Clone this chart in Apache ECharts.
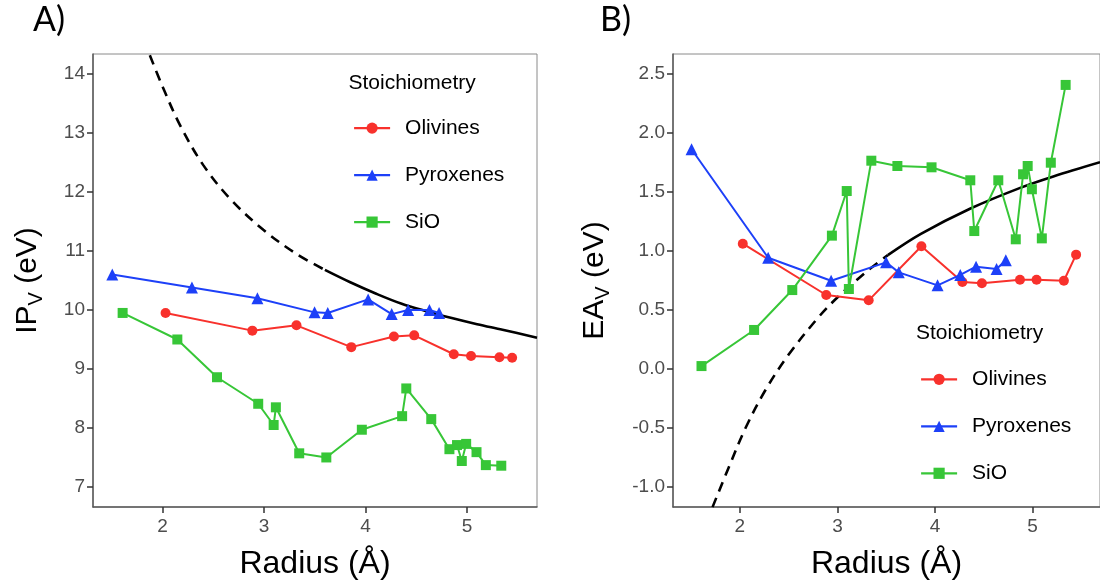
<!DOCTYPE html>
<html><head><meta charset="utf-8">
<script src="https://cdn.jsdelivr.net/npm/echarts@6.0.0/dist/echarts.min.js"></script>
<style>html,body{margin:0;padding:0;background:#fff}#c{width:1100px;height:585px}</style>
</head><body><div id="c"></div>
<script>
// ---- data ----
const seriesNames = ['Olivines', 'Pyroxenes', 'SiO'];

const olivR  = [2.03, 2.885, 3.32, 3.86, 4.28, 4.48, 4.87, 5.04, 5.32, 5.445];
const olivIP = [9.95, 9.65, 9.74, 9.37, 9.55, 9.57, 9.25, 9.22, 9.20, 9.19];
const olivEA = [1.062, 0.627, 0.582, 1.040, 0.737, 0.726, 0.757, 0.757, 0.748, 0.969];

const pyrR  = [1.505, 2.29, 2.935, 3.498, 3.628, 4.026, 4.258, 4.42, 4.63, 4.725];
const pyrIP = [10.60, 10.38, 10.20, 9.96, 9.95, 10.18, 9.93, 10.00, 10.00, 9.95];
const pyrEA = [1.862, 0.943, 0.748, 0.904, 0.819, 0.709, 0.797, 0.867, 0.847, 0.921];

const sioR  = [1.607, 2.146, 2.537, 2.943, 3.095, 3.117, 3.347, 3.614, 3.964, 4.361, 4.402, 4.648, 4.827, 4.902, 4.949, 4.992, 5.094, 5.186, 5.338];
const sioIP = [9.95, 9.50, 8.86, 8.41, 8.05, 8.35, 7.57, 7.50, 7.97, 8.20, 8.67, 8.15, 7.64, 7.71, 7.44, 7.73, 7.59, 7.37, 7.36];
const sioEA = [0.025, 0.331, 0.669, 1.130, 1.508, 0.678, 1.765, 1.720, 1.709, 1.599, 1.169, 1.599, 1.099, 1.650, 1.720, 1.523, 1.107, 1.748, 2.407];

// black model curve
const ipCurveDashR = [1.875, 2.0, 2.171, 2.40, 2.664, 2.993, 3.32, 3.60];
const ipCurveDashV = [14.32, 13.79, 13.14, 12.46, 11.89, 11.36, 10.95, 10.68];
const ipCurveSolidR = [3.60, 3.85, 4.10, 4.35, 4.60, 4.85, 5.10, 5.35, 5.69];
const ipCurveSolidV = [10.68, 10.47, 10.28, 10.11, 9.98, 9.865, 9.76, 9.665, 9.53];

const eaCurveDashR = [1.72, 1.888, 2.058, 2.261, 2.498, 2.804, 3.007, 3.312, 3.516];
const eaCurveDashV = [-1.17, -0.83, -0.50, -0.18, 0.12, 0.437, 0.612, 0.835, 0.965];
const eaCurveSolidR = [3.516, 3.855, 4.363, 4.872, 5.212, 5.69];
const eaCurveSolidV = [0.965, 1.145, 1.36, 1.535, 1.632, 1.752];

// ticks
const xTicks = [2, 3, 4, 5];
const ipTicks = [7, 8, 9, 10, 11, 12, 13, 14];
const eaTicks = [-1.0, -0.5, 0.0, 0.5, 1.0, 1.5, 2.0, 2.5];

// ---- chart ----
const FONT = '"Liberation Sans", Arial, Helvetica, sans-serif';
const colors = {Olivines: '#F8312C', Pyroxenes: '#1D40F8', SiO: '#37C637'};
const symbols = {Olivines: 'circle', Pyroxenes: 'triangle', SiO: 'rect'};
const sizes = {Olivines: 10, Pyroxenes: 12, SiO: 10};

const zip = (a, b) => a.map((v, i) => [v, b[i]]);

function dataSeries(name, xs, ys, idx) {
  return {
    name: name, type: 'line', xAxisIndex: idx, yAxisIndex: idx,
    data: zip(xs, ys),
    symbol: symbols[name], symbolSize: sizes[name],
    showSymbol: true,
    lineStyle: {color: colors[name], width: 2},
    itemStyle: {color: colors[name]},
    z: 3, animation: false
  };
}
function curveSeries(xs, ys, idx, dashed) {
  return {
    type: 'line', xAxisIndex: idx, yAxisIndex: idx,
    data: zip(xs, ys), symbol: 'none', smooth: 0.35,
    lineStyle: {color: '#000', width: 2.6, type: dashed ? [10, 7] : 'solid'},
    z: 2, animation: false, silent: true
  };
}

function xAxis(idx) {
  return {
    type: 'value', gridIndex: idx, min: 1.315, max: 5.69,
    axisLine: {show: true, onZero: false, lineStyle: {color: '#5a5a5a', width: 1.5}},
    axisTick: {show: true, length: 6, customValues: xTicks, lineStyle: {color: '#333', width: 1.5}},
    axisLabel: {customValues: xTicks, color: '#4d4d4d', fontSize: 19, fontFamily: FONT, margin: 10},
    splitLine: {show: false},
    name: 'Radius (Å)', nameLocation: 'middle', nameGap: 41,
    nameTextStyle: {color: '#000', fontSize: 32, fontFamily: FONT}
  };
}
function yName(txt, gap) {
  return {
    name: '{a|' + txt + '}{s|V}{a| (eV)}', nameLocation: 'middle', nameGap: gap,
    nameTextStyle: {rich: {
      a: {fontSize: 30, color: '#000', fontFamily: FONT},
      s: {fontSize: 20, color: '#000', fontFamily: FONT, padding: [16, 0, 0, 0]}
    }}
  };
}

const option = {
  animation: false,
  backgroundColor: '#fff',
  textStyle: {fontFamily: FONT},
  grid: [
    {left: 93, top: 54, width: 444, height: 453, show: true, borderColor: '#8a8a8a', borderWidth: 1, backgroundColor: 'transparent'},
    {left: 673, top: 54, width: 430, height: 453, show: true, borderColor: '#8a8a8a', borderWidth: 1, backgroundColor: 'transparent'}
  ],
  xAxis: [xAxis(0), xAxis(1)],
  yAxis: [
    Object.assign({
      type: 'value', gridIndex: 0, min: 6.66, max: 14.34,
      axisLine: {show: true, onZero: false, lineStyle: {color: '#5a5a5a', width: 1.5}},
      axisTick: {show: true, length: 6, customValues: ipTicks, lineStyle: {color: '#333', width: 1.5}},
      axisLabel: {customValues: ipTicks, color: '#4d4d4d', fontSize: 19, fontFamily: FONT, margin: 8},
      splitLine: {show: false}
    }, yName('IP', 47)),
    Object.assign({
      type: 'value', gridIndex: 1, min: -1.169, max: 2.669,
      axisLine: {show: true, onZero: false, lineStyle: {color: '#5a5a5a', width: 1.5}},
      axisTick: {show: true, length: 6, customValues: eaTicks, lineStyle: {color: '#333', width: 1.5}},
      axisLabel: {customValues: eaTicks, color: '#4d4d4d', fontSize: 19, fontFamily: FONT, margin: 8,
        formatter: v => v.toFixed(1)},
      splitLine: {show: false}
    }, yName('EA', 60))
  ],
  legend: [
    {
      data: seriesNames, orient: 'vertical', left: 353, top: 117.6, padding: 0,
      itemWidth: 36, itemHeight: 14, itemGap: 26, selectedMode: false,
      itemStyle: {borderWidth: 0},
      lineStyle: {width: 2.2},
      textStyle: {fontSize: 21, color: '#000', fontFamily: FONT, lineHeight: 12, padding: [0, 0, 0, 10]}
    },
    {
      data: seriesNames, orient: 'vertical', left: 920, top: 368.8, padding: 0,
      itemWidth: 36, itemHeight: 14, itemGap: 26, selectedMode: false,
      itemStyle: {borderWidth: 0},
      lineStyle: {width: 2.2},
      textStyle: {fontSize: 21, color: '#000', fontFamily: FONT, lineHeight: 12, padding: [0, 0, 0, 10]}
    }
  ],
  graphic: [
    {type: 'text', left: 33, top: 3, style: {text: 'A)', fontSize: 34, fontFamily: 'Lato, "Open Sans", sans-serif', fill: '#000'}},
    {type: 'text', left: 600, top: 3, style: {text: 'B)', fontSize: 34, fontFamily: 'Lato, "Open Sans", sans-serif', fill: '#000'}},
    {type: 'text', left: 348.5, top: 73, style: {text: 'Stoichiometry', fontSize: 21, fontFamily: FONT, fill: '#000'}},
    {type: 'text', left: 916, top: 323, style: {text: 'Stoichiometry', fontSize: 21, fontFamily: FONT, fill: '#000'}}
  ],
  series: [
    curveSeries(ipCurveDashR, ipCurveDashV, 0, true),
    curveSeries(ipCurveSolidR, ipCurveSolidV, 0, false),
    curveSeries(eaCurveDashR, eaCurveDashV, 1, true),
    curveSeries(eaCurveSolidR, eaCurveSolidV, 1, false),
    dataSeries('Olivines', olivR, olivIP, 0),
    dataSeries('Pyroxenes', pyrR, pyrIP, 0),
    dataSeries('SiO', sioR, sioIP, 0),
    dataSeries('Olivines', olivR, olivEA, 1),
    dataSeries('Pyroxenes', pyrR, pyrEA, 1),
    dataSeries('SiO', sioR, sioEA, 1)
  ]
};
const chart = echarts.init(document.getElementById('c'));
chart.setOption(option);
</script></body></html>
